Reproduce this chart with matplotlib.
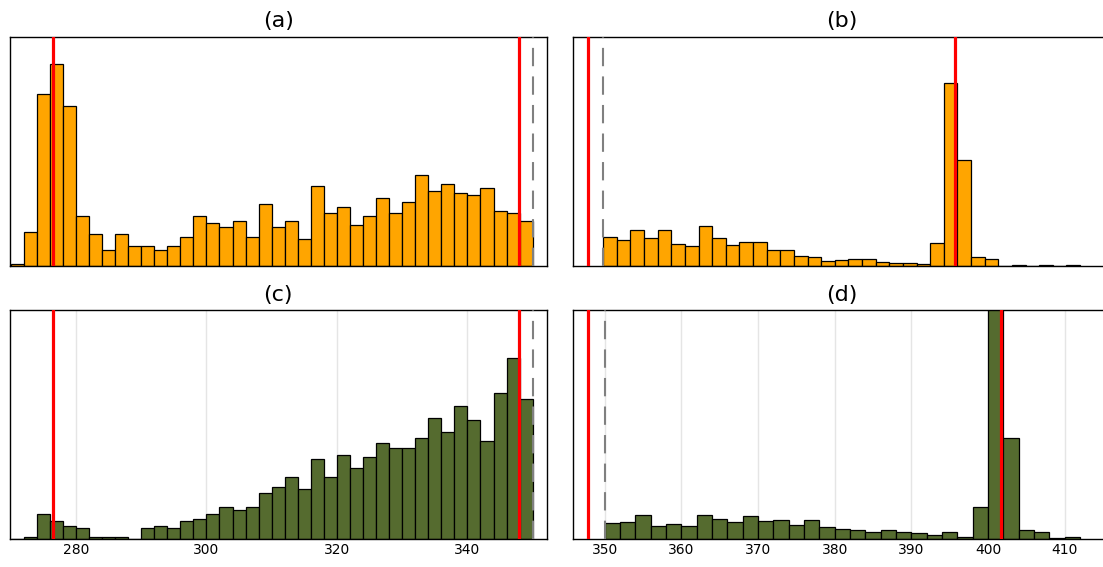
import numpy as np
import matplotlib.pyplot as plt

# (a) histogram, bins of width 2 from 270
a_start, a_width = 270, 2
a_counts = [7, 104, 516, 606, 481, 151, 96, 48, 96, 62, 62, 48, 62, 89, 151,
            131, 117, 137, 89, 186, 117, 137, 82, 241, 159, 179, 124, 151,
            206, 159, 193, 275, 227, 247, 220, 214, 234, 165, 159, 137]

# (b) histogram, 35 bins from 349.8 to 412
b_start, b_width = 349.8, 1.777
b_counts = [89, 78, 108, 84, 108, 66, 62, 121, 84, 64, 72, 74, 50, 50, 32,
            27, 15, 19, 23, 23, 14, 11, 11, 6, 69, 551, 318, 27, 23, 0, 5,
            0, 5, 0, 3]

# (c) histogram, bins of width 2 from 270
c_start, c_width = 270, 2
c_counts = [0, 6, 75, 55, 41, 33, 6, 6, 6, 0, 34, 41, 34, 55, 61, 75, 96, 89,
            96, 138, 158, 186, 151, 240, 186, 254, 213, 248, 288, 275, 275,
            303, 365, 323, 399, 357, 296, 439, 543, 420]

# (d) histogram, bins of width 2 from 350
d_start, d_width = 350, 2
d_counts = [48, 51, 73, 39, 46, 39, 73, 60, 53, 71, 55, 57, 43, 57, 36, 32,
            28, 23, 28, 21, 18, 13, 21, 6, 96, 780, 303, 28, 21, 4, 6]

# reference lines
a_red = [276.5, 347.9]
b_red = [347.8, 395.7]
c_red = [276.5, 347.9]
d_red = [347.8, 401.7]
a_dash, b_dash, c_dash, d_dash = 350, 349.8, 350, 350

orange = '#FFA500'
green = '#556B2F'

W, H = 1103, 567
fig = plt.figure(figsize=(W / 100, H / 100), dpi=100)

def px_axes(x0, y0, x1, y1):
    return fig.add_axes([x0 / W, 1 - y1 / H, (x1 - x0) / W, (y1 - y0) / H])

ax_a = px_axes(10, 36.7, 546.7, 266.3)
ax_b = px_axes(573.3, 36.7, 1110, 266.3)
ax_c = px_axes(10, 310.3, 546.7, 539.3)
ax_d = px_axes(573.3, 310.3, 1110, 539.3)

panels = [
    (ax_a, a_start, a_width, a_counts, a_red, a_dash, orange, '(a)', 689, (269.9, 352.15)),
    (ax_b, b_start, b_width, b_counts, b_red, b_dash, orange, '(b)', 689, (345.9, 415.9)),
    (ax_c, c_start, c_width, c_counts, c_red, c_dash, green, '(c)', 687, (269.9, 352.15)),
    (ax_d, d_start, d_width, d_counts, d_red, d_dash, green, '(d)', 687, (345.9, 415.9)),
]

for ax, start, width, counts, reds, dash, col, title, ymax, xlim in panels:
    edges = start + width * np.arange(len(counts))
    ax.set_axisbelow(True)
    ax.bar(edges, counts, width=width, align='edge', color=col,
           edgecolor='black', linewidth=0.9)
    for r in reds:
        ax.axvline(r, color='red', linewidth=2.3, zorder=4)
    ax.axvline(dash, color='grey', linewidth=1.5, dashes=(8.8, 4.9), zorder=3)
    ax.set_xlim(*xlim)
    ax.set_ylim(0, ymax)
    ax.set_yticks([])
    ax.set_title(title, fontsize=16, pad=7)
    ax.tick_params(length=0, pad=3, labelsize=10)
    for s in ax.spines.values():
        s.set_linewidth(1.0)
        s.set_color('black')

ax_a.set_xticks([])
ax_b.set_xticks([])
ax_c.set_xticks([280, 300, 320, 340])
ax_d.set_xticks([350, 360, 370, 380, 390, 400, 410])
for ax in (ax_c, ax_d):
    ax.grid(axis='x', color='#e5e5e5', linewidth=1.0)

fig.savefig('out.png', dpi=100)
